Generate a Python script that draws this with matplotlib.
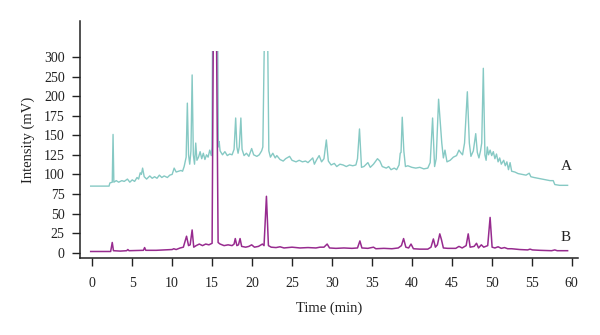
import numpy as np
import matplotlib
matplotlib.use("Agg")
import matplotlib.pyplot as plt
from matplotlib.patches import Rectangle

# Chromatogram A (upper trace): retention time (min) and detector signal (mV)
time_a = [-0.2, 2.1, 2.2, 2.5, 2.6, 2.7, 3.0, 3.3, 3.7, 4.0, 4.4, 4.7, 5.0, 5.3, 5.6, 5.8,
          6.0, 6.15, 6.3, 6.5, 6.8, 7.2, 7.5, 7.8, 8.1, 8.4, 8.7, 9.0, 9.4, 9.7, 10.0, 10.25,
          10.5, 10.8, 11.1, 11.3, 11.5, 11.75, 11.9, 12.05, 12.2, 12.35, 12.5, 12.65, 12.8,
          12.95, 13.1, 13.3, 13.5, 13.7, 13.9, 14.1, 14.3, 14.5, 14.7, 14.9, 14.98, 15.06,
          15.7, 15.78, 15.88, 16.0, 16.3, 16.6, 16.9, 17.2, 17.5, 17.75, 17.95, 18.1, 18.25,
          18.4, 18.6, 18.75, 19.0, 19.3, 19.6, 19.95, 20.2, 20.6, 20.9, 21.2, 21.35, 21.55,
          21.95, 22.1, 22.3, 22.6, 22.9, 23.1, 23.5, 23.9, 24.2, 24.7, 25.0, 25.5, 25.9, 26.3,
          26.7, 27.0, 27.4, 27.6, 27.8, 28.1, 28.4, 28.7, 29.0, 29.3, 29.55, 29.9, 30.3, 30.6,
          31.0, 31.4, 31.8, 32.2, 32.6, 33.0, 33.2, 33.45, 33.7, 34.0, 34.5, 34.8, 35.2, 35.7,
          36.0, 36.3, 36.8, 37.1, 37.4, 37.8, 38.1, 38.4, 38.55, 38.65, 38.8, 39.0, 39.2, 39.5,
          40.0, 40.5, 41.0, 41.5, 42.0, 42.3, 42.6, 42.85, 43.05, 43.35, 43.55, 43.75, 43.95,
          44.15, 44.4, 44.8, 45.2, 45.6, 45.9, 46.1, 46.35, 46.6, 46.95, 47.2, 47.4, 47.7,
          48.0, 48.2, 48.4, 48.6, 48.75, 48.95, 49.15, 49.3, 49.45, 49.6, 49.8, 50.0, 50.2,
          50.4, 50.6, 50.8, 51.0, 51.2, 51.5, 51.7, 51.9, 52.1, 52.3, 52.5, 52.9, 53.3, 53.8,
          54.3, 54.7, 54.9, 55.3, 55.8, 56.3, 56.8, 57.3, 57.7, 57.9, 58.5, 59.5]
signal_a = [85, 85, 89, 90, 151, 90, 92, 90, 92, 91, 94, 90, 93, 91, 96, 94,
            102, 100, 108, 97, 94, 98, 95, 97, 95, 99, 96, 98, 96, 99, 100, 108,
            103, 104, 105, 104, 110, 122, 191, 125, 113, 130, 254, 125, 113,
            140, 118, 122, 129, 120, 127, 119, 125, 122, 131, 124, 135, 360,
            360, 135, 142, 130, 125, 129, 124, 126, 125, 132, 172, 135, 127,
            135, 172, 132, 124, 127, 123, 133, 125, 123, 125, 130, 135, 360,
            360, 130, 122, 127, 121, 124, 119, 117, 120, 123, 118, 116, 118, 116,
            117, 115, 119, 121, 113, 119, 124, 116, 120, 144, 117, 112, 114, 110,
            113, 112, 110, 112, 111, 112, 120, 158, 109, 110, 115, 109, 113, 120,
            117, 110, 108, 110, 106, 108, 106, 112, 127, 128, 173, 130, 110, 111,
            109, 108, 109, 107, 108, 115, 172, 110, 120, 196, 168, 140, 121,
            131, 116, 118, 122, 124, 131, 128, 125, 140, 211, 140, 123, 130,
            152, 128, 121, 130, 140, 271, 125, 118, 135, 125, 131, 124, 129,
            120, 126, 116, 121, 113, 118, 111, 116, 106, 115, 104, 103, 101, 100,
            99, 101.5, 97, 96, 95, 94, 93, 92, 92, 87, 86, 86]

# Chromatogram B (lower trace)
time_b = [-0.2, 2.3, 2.5, 2.65, 3.5, 4.3, 4.45, 4.6, 6.4, 6.55, 6.7, 8.0, 10.0, 10.2, 10.5,
          11.0, 11.4, 11.8, 12.05, 12.25, 12.5, 12.7, 13.0, 13.4, 13.8, 14.2, 14.6, 15.0,
          15.15, 15.55, 15.75, 16.0, 16.5, 17.0, 17.5, 17.75, 17.9, 18.1, 18.3, 18.5, 18.7,
          19.2, 19.6, 19.95, 20.3, 20.8, 21.3, 21.5, 21.8, 22.05, 22.4, 23.0, 23.5, 24.0,
          25.0, 26.0, 27.0, 28.0, 28.5, 29.0, 29.4, 29.7, 30.5, 31.5, 32.5, 33.2, 33.5,
          33.75, 34.5, 35.2, 35.5, 36.5, 37.5, 38.3, 38.7, 38.97, 39.25, 39.6, 39.9, 40.2,
          41.0, 42.0, 42.4, 42.7, 42.95, 43.2, 43.5, 43.7, 43.95, 44.5, 45.5, 45.9, 46.3,
          46.8, 47.06, 47.3, 47.8, 48.1, 48.35, 48.7, 49.0, 49.5, 49.8, 50.05, 50.4, 50.8,
          51.2, 51.6, 52.0, 52.5, 53.5, 54.5, 54.8, 55.1, 56.0, 57.5, 57.9, 58.2, 59.5]
signal_b = [1.5, 1.5, 13, 2.5, 2, 2.5, 4, 2.5, 3, 6.5, 3, 3, 4, 5, 4,
            6, 7, 21, 9, 10, 29, 7, 9, 11, 9, 11, 10, 12,
            360, 360, 13, 11, 9, 10, 9, 11, 18, 9, 10, 18, 8,
            7, 8, 10, 7, 8, 11, 9, 72, 9, 7, 6.5, 7.5, 6,
            7, 6, 6.5, 6, 7, 7, 11, 6, 5.5, 6, 5.5, 6, 15,
            6, 5.5, 7, 5, 5.5, 5, 6, 9, 18, 7, 6, 11, 5,
            4.5, 4.5, 7, 17.5, 7, 10, 24, 17, 6, 5.5, 5.5, 8, 6,
            9, 24, 7, 8, 12, 6, 10, 7, 9, 45, 7, 6, 7.5,
            5.5, 6.5, 5, 5, 4, 3.5, 4.5, 3.5, 3, 2.5, 3.5, 2.5, 2.5]

# Off-scale peaks are cut at the recorder limit
signal_ceiling = 315

x_ticks = list(range(0, 61, 5))
y_ticks = [0, 25, 50, 75, 100, 125, 150, 175, 200, 250, 300]
trace_labels = ["A", "B"]

color_a = "#86c9c4"
color_b = "#972b8f"

plt.rcParams["font.family"] = ["Liberation Serif", "DejaVu Serif"]

fig = plt.figure(figsize=(6.0, 3.35), dpi=100)
ax = fig.add_axes([0.1333, 0.2299, 0.83, 0.7074])


# Signal axis is compressed by half above 200 mV
def _fwd(y):
    y = np.asarray(y, dtype=float)
    return np.where(y <= 200, y, 200 + (y - 200) / 2.0)


def _inv(y):
    y = np.asarray(y, dtype=float)
    return np.where(y <= 200, y, 200 + (y - 200) * 2.0)


ax.set_yscale("function", functions=(_fwd, _inv))

x_lo, x_hi = -1.54, 60.8
y_lo, y_hi = -6.8, 391.8

line_a, = ax.plot(time_a, signal_a, color=color_a, lw=1.0, solid_joinstyle="round")
line_b, = ax.plot(time_b, signal_b, color=color_b, lw=1.1, solid_joinstyle="round")

clip = Rectangle((x_lo, y_lo), x_hi - x_lo, signal_ceiling - y_lo,
                 transform=ax.transData, fill=False, visible=False)
ax.add_patch(clip)
line_a.set_clip_path(clip)
line_b.set_clip_path(clip)

ax.set_xlim(x_lo, x_hi)
ax.set_ylim(y_lo, y_hi)
ax.set_xticks(x_ticks)
ax.set_yticks(y_ticks)
ax.set_yticklabels([str(v) for v in y_ticks])
ax.set_xticklabels([str(v) for v in x_ticks])
ax.yaxis.set_minor_locator(matplotlib.ticker.NullLocator())

for side in ("top", "right"):
    ax.spines[side].set_visible(False)
for side in ("left", "bottom"):
    ax.spines[side].set_linewidth(1.1)
    ax.spines[side].set_color("#222222")

ax.tick_params(axis="both", direction="out", length=6, width=1.0, color="#222222",
               labelsize=10, labelcolor="#222222")
ax.tick_params(axis="x", pad=8)
ax.tick_params(axis="y", pad=5)

ax.set_xlabel("Time (min)", fontsize=10.5, color="#222222", labelpad=8)
ax.set_ylabel("Intensity (mV)", fontsize=10.5, color="#222222", labelpad=6)

ax.text(59.35, 110, trace_labels[0], fontsize=11, ha="center", va="center", color="#222222")
ax.text(59.3, 19.7, trace_labels[1], fontsize=11, ha="center", va="center", color="#222222")

fig.savefig("out.png", dpi=100)
